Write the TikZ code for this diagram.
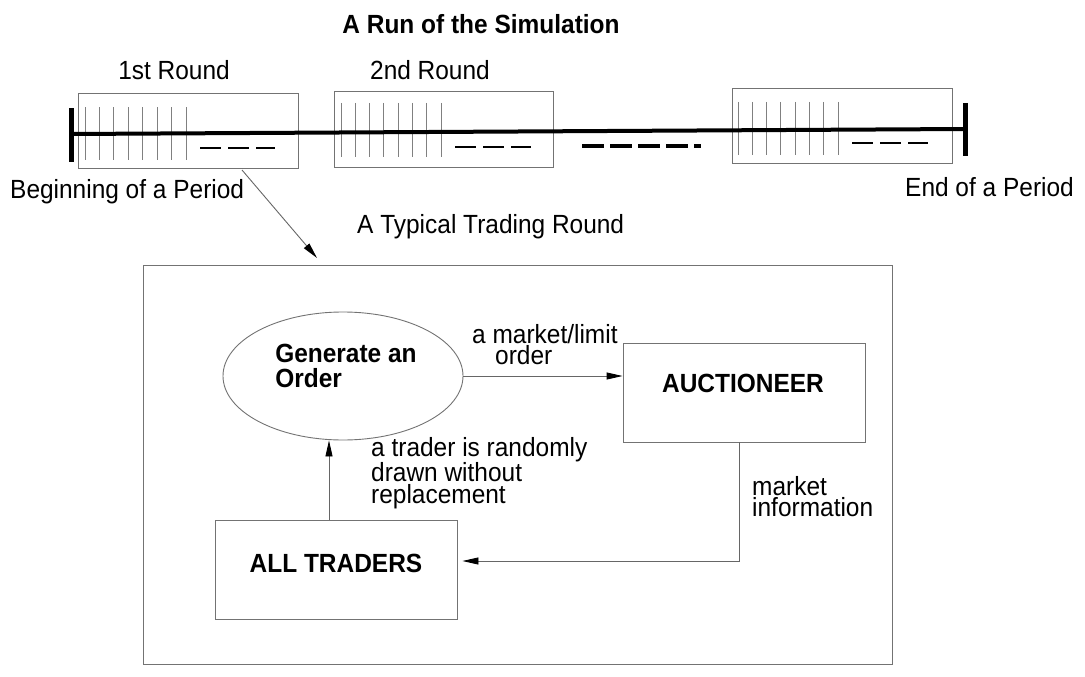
\documentclass[tikz,border=0pt]{standalone}
\usepackage{fontspec}
\setmainfont[FakeStretch=0.93]{Liberation Sans}
\usetikzlibrary{arrows.meta,shapes.geometric}
\begin{document}
\begin{tikzpicture}[x=1pt,y=-1pt,
  thinbox/.style={draw=black!55, line width=0.9pt, inner sep=0pt},
  tick/.style={draw=black!50, line width=0.8pt},
  dsh/.style={line width=2.4pt, dash pattern=on 21pt off 7pt},
  bigdsh/.style={line width=4pt, dash pattern=on 21.5pt off 6.5pt},
  arr/.style={draw=black!60, line width=0.9pt, -{Triangle[length=16pt,width=7pt,color=black]}},
  txt/.style={font=\fontsize{26.3}{21.5}\selectfont, inner sep=0pt},
  btxt/.style={font=\fontsize{26.3}{25}\selectfont\bfseries, inner sep=0pt}]
\useasboundingbox (0,0) rectangle (1085,677);

% title and round labels
\node[btxt] (title) at (481,24) {A Run of the Simulation};
\node[txt] (lr1) at (174,70) {1st Round};
\node[txt] (lr2) at (430,70) {2nd Round};

% round boxes
\node[thinbox, minimum width=220pt, minimum height=75pt] (r1) at (188,130.5) {};
\node[thinbox, minimum width=219pt, minimum height=76pt] (r2) at (443.5,129) {};
\node[thinbox, minimum width=220pt, minimum height=75pt] (r3) at (842,125.5) {};

% ticks
\foreach \i in {0,...,7} {
  \draw[tick] ({85+14.43*\i},107) -- ({85+14.43*\i},160);
  \draw[tick] ({341+14.29*\i},103) -- ({341+14.29*\i},157);
  \draw[tick] ({738+14.29*\i},102) -- ({738+14.29*\i},155);
}

% short dashes
\draw[dsh] (200,148) -- (275,148);
\draw[dsh] (455,147) -- (531,147);
\draw[dsh] (852,143) -- (928,143);
\draw[bigdsh] (582,146) -- (701,146);

% timeline
\coordinate (tl) at (71,134);
\coordinate (tr) at (965,129);
\draw[line width=4pt] (tl) -- (tr);
\draw[line width=5pt] (71,108) -- (71,162);
\draw[line width=5pt] (965,103) -- (965,156);

% period labels
\node[txt, anchor=west] (beg) at (10,192) {Beginning of a Period};
\node[txt, anchor=west] (endp) at (905,187) {End of a Period};
\node[txt, anchor=west] (typ) at (357,227) {A Typical Trading Round};

% big box
\node[thinbox, minimum width=749pt, minimum height=399pt] (big) at (517.5,464.5) {};
\coordinate (as) at (242,170);
\coordinate (ae) at (317,258);
\draw[arr] (as) -- (ae);

% inner diagram
\node[thinbox, ellipse, minimum width=240pt, minimum height=128pt] (gen) at (343,376) {};
\node[btxt, align=left] (gent) at (346,366) {Generate an\\Order};
\node[thinbox, minimum width=242pt, minimum height=99pt] (auct) at (744,392.5) {};
\node[btxt] (auctt) at (743,383) {AUCTIONEER};
\node[thinbox, minimum width=242pt, minimum height=99pt] (trad) at (336,569.5) {};
\node[btxt] (tradt) at (336,563) {ALL TRADERS};

\draw[arr] (gen.east) -- (gen.east -| auct.west);
\coordinate (upx) at (329,480);
\draw[arr] (trad.north -| upx) -- (gen.south -| upx);
\coordinate (fb) at (739,561);
\draw[arr] (auct.south -| fb) -- (fb) -- ([xshift=5pt]trad.east |- fb);

% connector labels
\node[txt, align=left, anchor=north west] (mlo) at (472,324) {a market/limit\\\hspace*{23pt}order};
\node[txt, align=left, anchor=north west] (trl) at (371,437) {a trader is randomly\\drawn without\\replacement};
\node[txt, align=left, anchor=north west] (mkl) at (752,476) {market\\information};
\end{tikzpicture}
\end{document}
